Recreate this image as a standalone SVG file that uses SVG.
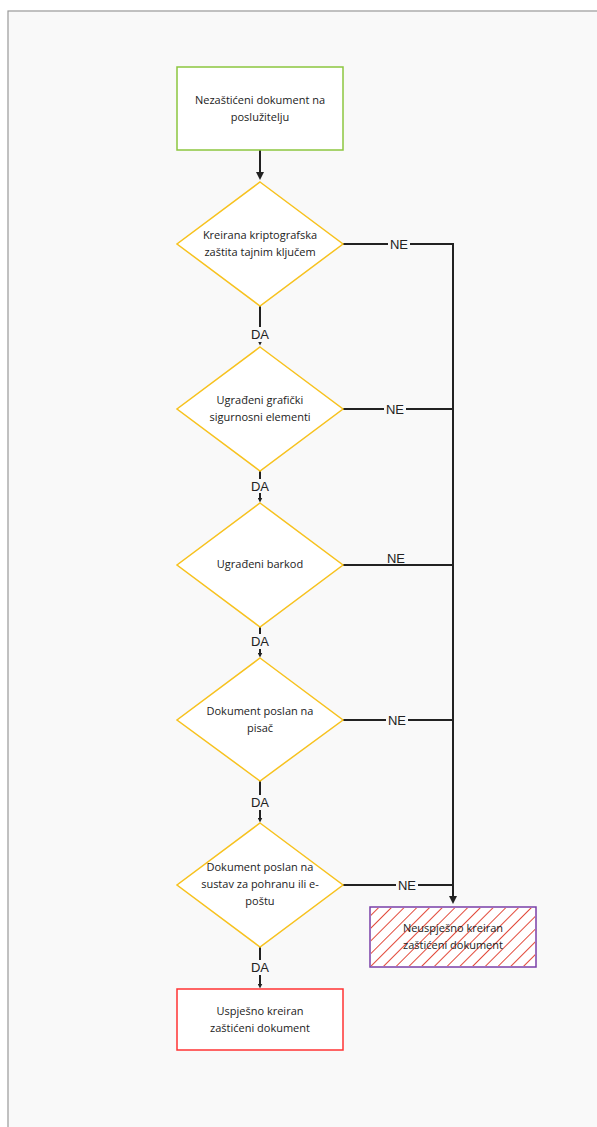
<svg xmlns="http://www.w3.org/2000/svg" width="597" height="1127" viewBox="0 0 597 1127">
<style>
.t{font-family:"Open Sans","Liberation Sans",sans-serif;font-size:11px;fill:#222;text-anchor:middle}
.l{font-family:"Liberation Sans",Arial,sans-serif;font-size:13px;fill:#222;text-anchor:middle}
.c{stroke:#222;stroke-width:2;fill:none}
.d{fill:#fff;stroke:#f7c21f;stroke-width:1.5}
.lb{fill:#f9f9f9}
</style>
<defs>
<marker id="a" markerWidth="8" markerHeight="8" refX="4" refY="4" orient="auto" markerUnits="userSpaceOnUse"><path d="M0,0 L8,4 L0,8 z" fill="#222"/></marker>
<marker id="s" markerWidth="5" markerHeight="5" refX="2.5" refY="2.5" orient="auto" markerUnits="userSpaceOnUse"><path d="M0,0 L5,2.5 L0,5 z" fill="#222"/></marker>
<pattern id="h" width="9" height="9" patternUnits="userSpaceOnUse" patternTransform="rotate(45)"><line x1="0" y1="0" x2="0" y2="9" stroke="#e24a3b" stroke-width="2"/></pattern>
</defs>
<rect width="597" height="1127" fill="#fff"/>
<rect x="8" y="11" width="600" height="1130" fill="#f9f9f9" stroke="#999" stroke-width="1.2"/>
<g id="connectors">
<line class="c" x1="260" y1="150" x2="260" y2="176" marker-end="url(#a)"/>
<line class="c" x1="260" y1="306" x2="260" y2="343" marker-end="url(#s)"/>
<line class="c" x1="260" y1="471" x2="260" y2="500" marker-end="url(#s)"/>
<line class="c" x1="260" y1="627" x2="260" y2="655" marker-end="url(#s)"/>
<line class="c" x1="260" y1="781" x2="260" y2="820" marker-end="url(#s)"/>
<line class="c" x1="260" y1="947" x2="260" y2="986" marker-end="url(#s)"/>
<line class="c" x1="343" y1="244" x2="453" y2="244"/>
<line class="c" x1="343" y1="409" x2="453" y2="409"/>
<line class="c" x1="343" y1="565" x2="453" y2="565"/>
<line class="c" x1="343" y1="720" x2="453" y2="720"/>
<line class="c" x1="343" y1="885" x2="453" y2="885"/>
<line class="c" x1="453" y1="243" x2="453" y2="900" marker-end="url(#a)"/>
<rect class="lb" x="248" y="327" width="24" height="15"/><text class="l" x="260" y="339">DA</text>
<rect class="lb" x="248" y="479" width="24" height="14"/><text class="l" x="260" y="491">DA</text>
<rect class="lb" x="248" y="634" width="24" height="15"/><text class="l" x="260" y="646">DA</text>
<rect class="lb" x="248" y="795" width="24" height="15"/><text class="l" x="260" y="807">DA</text>
<rect class="lb" x="248" y="960" width="24" height="15"/><text class="l" x="260" y="972">DA</text>
<rect class="lb" x="388" y="237" width="22" height="14"/><text class="l" x="399" y="249">NE</text>
<rect class="lb" x="384" y="402" width="22" height="14"/><text class="l" x="395" y="414">NE</text>
<rect class="lb" x="385" y="552" width="22" height="12"/><text class="l" x="396" y="563">NE</text>
<rect class="lb" x="386" y="713" width="22" height="14"/><text class="l" x="397" y="725">NE</text>
<rect class="lb" x="396" y="878" width="22" height="14"/><text class="l" x="407" y="890">NE</text>
</g>
<g id="start">
<rect x="177" y="67" width="166" height="83" fill="#fff" stroke="#8cc63f" stroke-width="1.5"/>
<text class="t" x="260" y="104">Nezaštićeni dokument na</text>
<text class="t" x="260" y="121">poslužitelju</text>
</g>
<g id="d1">
<polygon class="d" points="260,182 343,244 260,306 177,244"/>
<text class="t" x="260" y="239">Kreirana kriptografska</text>
<text class="t" x="260" y="256">zaštita tajnim ključem</text>
</g>
<g id="d2">
<polygon class="d" points="260,347 343,409 260,471 177,409"/>
<text class="t" x="260" y="404">Ugrađeni grafički</text>
<text class="t" x="260" y="421">sigurnosni elementi</text>
</g>
<g id="d3">
<polygon class="d" points="260,503 343,565 260,627 177,565"/>
<text class="t" x="260" y="568">Ugrađeni barkod</text>
</g>
<g id="d4">
<polygon class="d" points="260,658 343,720 260,781 177,720"/>
<text class="t" x="260" y="715">Dokument poslan na</text>
<text class="t" x="260" y="732">pisač</text>
</g>
<g id="d5">
<polygon class="d" points="260,823 343,885 260,947 177,885"/>
<text class="t" x="260" y="871">Dokument poslan na</text>
<text class="t" x="260" y="888">sustav za pohranu ili e-</text>
<text class="t" x="260" y="905">poštu</text>
</g>
<g id="fail">
<rect x="370" y="907" width="166" height="60" fill="#fff" stroke="#7a3fa8" stroke-width="1.5"/>
<rect x="371" y="908" width="164" height="58" fill="url(#h)"/>
<text class="t" x="453" y="932">Neuspješno kreiran</text>
<text class="t" x="453" y="949">zaštićeni dokument</text>
</g>
<g id="success">
<rect x="177" y="989" width="166" height="61" fill="#fff" stroke="#ff3333" stroke-width="1.5"/>
<text class="t" x="260" y="1015">Uspješno kreiran</text>
<text class="t" x="260" y="1032">zaštićeni dokument</text>
</g>
</svg>
